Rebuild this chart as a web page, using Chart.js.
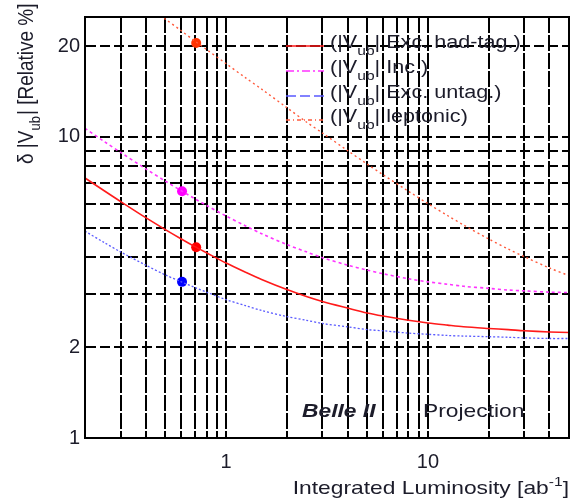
<!DOCTYPE html>
<html>
<head>
<meta charset="utf-8">
<script src="https://cdn.jsdelivr.net/npm/chart.js@4.4.1/dist/chart.umd.min.js"></script>
<style>
  html, body { margin: 0; padding: 0; background: #fff; }
  #wrap { width: 581px; height: 499px; }
</style>
</head>
<body>
<div id="wrap"><canvas id="c" width="581" height="499"></canvas></div>
<script>
// Integrated luminosity sampling points [ab^-1]
const luminosity = [0.2, 0.25, 0.3, 0.4, 0.5, 0.6, 0.7, 0.8, 1, 1.25, 1.5, 2, 2.5, 3, 4, 5, 6, 8, 10, 12.5, 15, 20, 25, 30, 40, 50];
// Relative uncertainty on |Vub| [%]
const hadTagged = [7.30, 6.61, 6.10, 5.39, 4.92, 4.58, 4.32, 4.12, 3.81, 3.55, 3.36, 3.11, 2.95, 2.84, 2.70, 2.60, 2.54, 2.46, 2.41, 2.37, 2.34, 2.31, 2.29, 2.27, 2.25, 2.24];
const inclusive = [10.67, 9.63, 8.88, 7.83, 7.13, 6.62, 6.23, 5.92, 5.46, 5.06, 4.77, 4.39, 4.15, 3.97, 3.75, 3.61, 3.51, 3.38, 3.30, 3.24, 3.19, 3.14, 3.10, 3.08, 3.05, 3.04];
const untagged = [4.86, 4.45, 4.15, 3.75, 3.48, 3.30, 3.16, 3.05, 2.88, 2.75, 2.65, 2.53, 2.46, 2.40, 2.34, 2.29, 2.27, 2.23, 2.21, 2.19, 2.18, 2.17, 2.16, 2.15, 2.14, 2.14];
const leptonicLumi = [0.45, 0.5, 0.6, 0.7, 0.8, 1, 1.25, 1.5, 2, 2.5, 3, 4, 5, 6, 8, 10, 12.5, 15, 20, 25, 30, 40, 50];
const leptonic = [25.9, 24.6, 22.5, 20.8, 19.5, 17.5, 15.7, 14.4, 12.5, 11.2, 10.3, 9.0, 8.12, 7.48, 6.60, 6.00, 5.48, 5.10, 4.58, 4.24, 4.00, 3.67, 3.46];
// Belle measurements (had-tag, inclusive, untagged, leptonic)
const belleLumi = [0.711, 0.605, 0.605, 0.711];
const belleValues = [4.3, 6.6, 3.3, 20.5];

// Axis grid positions and labelled ticks
const xGrid = [0.2, 0.3, 0.4, 0.5, 0.6, 0.7, 0.8, 0.9, 1, 2, 3, 4, 5, 6, 7, 8, 9, 10, 20, 30, 40, 50];
const xTickLabels = [1, 10];
const yGrid = [1, 2, 3, 4, 5, 6, 7, 8, 9, 10, 20];
const yTickLabels = [1, 2, 10, 20];

const seriesNames = ['Exc. had-tag.)', 'Inc.)', 'Exc. untag.)', 'leptonic)'];
const seriesColors = ['#ff1a1a', '#ff33ff', '#5a5aff', '#ff5a3c'];
const markerColors = ['#ff0000', '#ff00ff', '#0000ff', '#ff3300'];
const legendDash = [[], [8, 3, 2, 3], [10, 4], [4, 3, 1, 3]];

const pts = (xs, ys) => xs.map((x, i) => ({ x: x, y: ys[i] }));

Chart.defaults.font.family = "'Liberation Sans', Arial, sans-serif";

const TEXT = '#1c1c2a';

function stretched(ctx, text, x, y, sx) {
  ctx.save();
  ctx.translate(x, y);
  ctx.scale(sx, 1);
  ctx.fillText(text, 0, 0);
  ctx.restore();
  return ctx.measureText(text).width * sx;
}

const decorations = {
  id: 'decorations',
  afterDraw(chart) {
    const ctx = chart.ctx;
    const a = chart.chartArea;
    ctx.save();
    // frame
    ctx.strokeStyle = '#000';
    ctx.lineWidth = 2;
    ctx.setLineDash([]);
    ctx.strokeRect(a.left, a.top, a.right - a.left, a.bottom - a.top);

    ctx.fillStyle = TEXT;
    ctx.textBaseline = 'alphabetic';
    ctx.textAlign = 'left';
    const SX = 1.2;

    // legend
    const rowBase = [48, 73, 98, 122];
    for (let i = 0; i < 4; i++) {
      const yb = rowBase[i];
      ctx.save();
      ctx.strokeStyle = seriesColors[i];
      ctx.lineWidth = 1.6;
      ctx.setLineDash(legendDash[i]);
      ctx.beginPath();
      ctx.moveTo(286, yb - 2);
      ctx.lineTo(324, yb - 2);
      ctx.stroke();
      ctx.restore();
      let x = 330;
      ctx.font = '18px "Liberation Sans", Arial, sans-serif';
      x += stretched(ctx, '(|V', x, yb, SX);
      ctx.font = '13px "Liberation Sans", Arial, sans-serif';
      x += stretched(ctx, 'ub', x, yb + 7, SX);
      ctx.font = '18px "Liberation Sans", Arial, sans-serif';
      x += stretched(ctx, '| ', x, yb, SX);
      stretched(ctx, seriesNames[i], x, yb, SX);
    }

    // experiment label
    ctx.font = 'italic bold 19px "Liberation Sans", Arial, sans-serif';
    stretched(ctx, 'Belle II', 302, 417, SX);
    ctx.font = '19px "Liberation Sans", Arial, sans-serif';
    stretched(ctx, 'Projection', 423, 417, SX);

    // x-axis title, right aligned to the frame
    const main = 'Integrated Luminosity [ab';
    ctx.font = '19px "Liberation Sans", Arial, sans-serif';
    const wMain = ctx.measureText(main).width * SX;
    const wClose = ctx.measureText(']').width * SX;
    ctx.font = '13px "Liberation Sans", Arial, sans-serif';
    const wSup = ctx.measureText('-1').width * SX;
    let x0 = a.right - (wMain + wSup + wClose);
    const yb = 494;
    ctx.font = '19px "Liberation Sans", Arial, sans-serif';
    x0 += stretched(ctx, main, x0, yb, SX);
    ctx.font = '13px "Liberation Sans", Arial, sans-serif';
    x0 += stretched(ctx, '-1', x0, yb - 8, SX);
    ctx.font = '19px "Liberation Sans", Arial, sans-serif';
    stretched(ctx, ']', x0, yb, SX);

    // y-axis title, rotated, reading upwards
    ctx.save();
    ctx.translate(33, 164);
    ctx.rotate(-Math.PI / 2);
    ctx.scale(1, 1.15);
    let t = 0;
    ctx.font = '19px "Liberation Sans", Arial, sans-serif';
    ctx.fillText('δ |V', t, 0);
    t += ctx.measureText('δ |V').width;
    ctx.font = '13px "Liberation Sans", Arial, sans-serif';
    ctx.fillText('ub', t, 6);
    t += ctx.measureText('ub').width + 1;
    ctx.font = '19px "Liberation Sans", Arial, sans-serif';
    ctx.fillText('| [Relative %]', t, 0);
    ctx.restore();

    ctx.restore();
  }
};

const curveStyle = (color, dash, width) => ({
  borderColor: color,
  backgroundColor: color,
  borderWidth: width,
  borderDash: dash,
  pointRadius: 0,
  fill: false,
  tension: 0.3
});

new Chart(document.getElementById('c'), {
  type: 'line',
  data: {
    datasets: [
      Object.assign({ label: 'had-tag', data: pts(luminosity, hadTagged) }, curveStyle(seriesColors[0], [], 1.6)),
      Object.assign({ label: 'inclusive', data: pts(luminosity, inclusive) }, curveStyle(seriesColors[1], [3, 3], 1.6)),
      Object.assign({ label: 'untagged', data: pts(luminosity, untagged) }, curveStyle(seriesColors[2], [2, 2], 1.3)),
      Object.assign({ label: 'leptonic', data: pts(leptonicLumi, leptonic) }, curveStyle(seriesColors[3], [2, 3], 1.4)),
      {
        label: 'Belle',
        data: pts(belleLumi, belleValues),
        showLine: false,
        pointRadius: 5,
        pointBorderWidth: 0,
        pointBackgroundColor: markerColors,
        pointBorderColor: markerColors
      }
    ]
  },
  options: {
    responsive: false,
    devicePixelRatio: 1,
    animation: false,
    layout: { padding: { top: 6, right: 3, left: 0, bottom: 0 } },
    plugins: { legend: { display: false }, tooltip: { enabled: false } },
    scales: {
      x: {
        type: 'logarithmic',
        min: 0.2,
        max: 50,
        afterBuildTicks(scale) { scale.ticks = xGrid.map(v => ({ value: v })); },
        afterFit(scale) { scale.height = 61; },
        ticks: {
          autoSkip: false,
          maxRotation: 0,
          padding: 12,
          color: TEXT,
          font: { size: 20 },
          callback: v => (xTickLabels.includes(v) ? String(v) : '')
        },
        grid: { color: '#000', lineWidth: 2, drawTicks: false },
        border: { display: true, color: '#000', width: 2, dash: [16, 2] }
      },
      y: {
        type: 'logarithmic',
        min: 1,
        max: 25,
        afterBuildTicks(scale) { scale.ticks = yGrid.map(v => ({ value: v })); },
        afterFit(scale) { scale.width = 85; },
        ticks: {
          autoSkip: false,
          padding: 5,
          color: TEXT,
          font: { size: 20 },
          callback: v => (yTickLabels.includes(v) ? String(v) : '')
        },
        grid: { color: '#000', lineWidth: 2, drawTicks: false },
        border: { display: true, color: '#000', width: 2, dash: [10, 4] }
      }
    }
  },
  plugins: [decorations]
});
</script>
</body>
</html>
